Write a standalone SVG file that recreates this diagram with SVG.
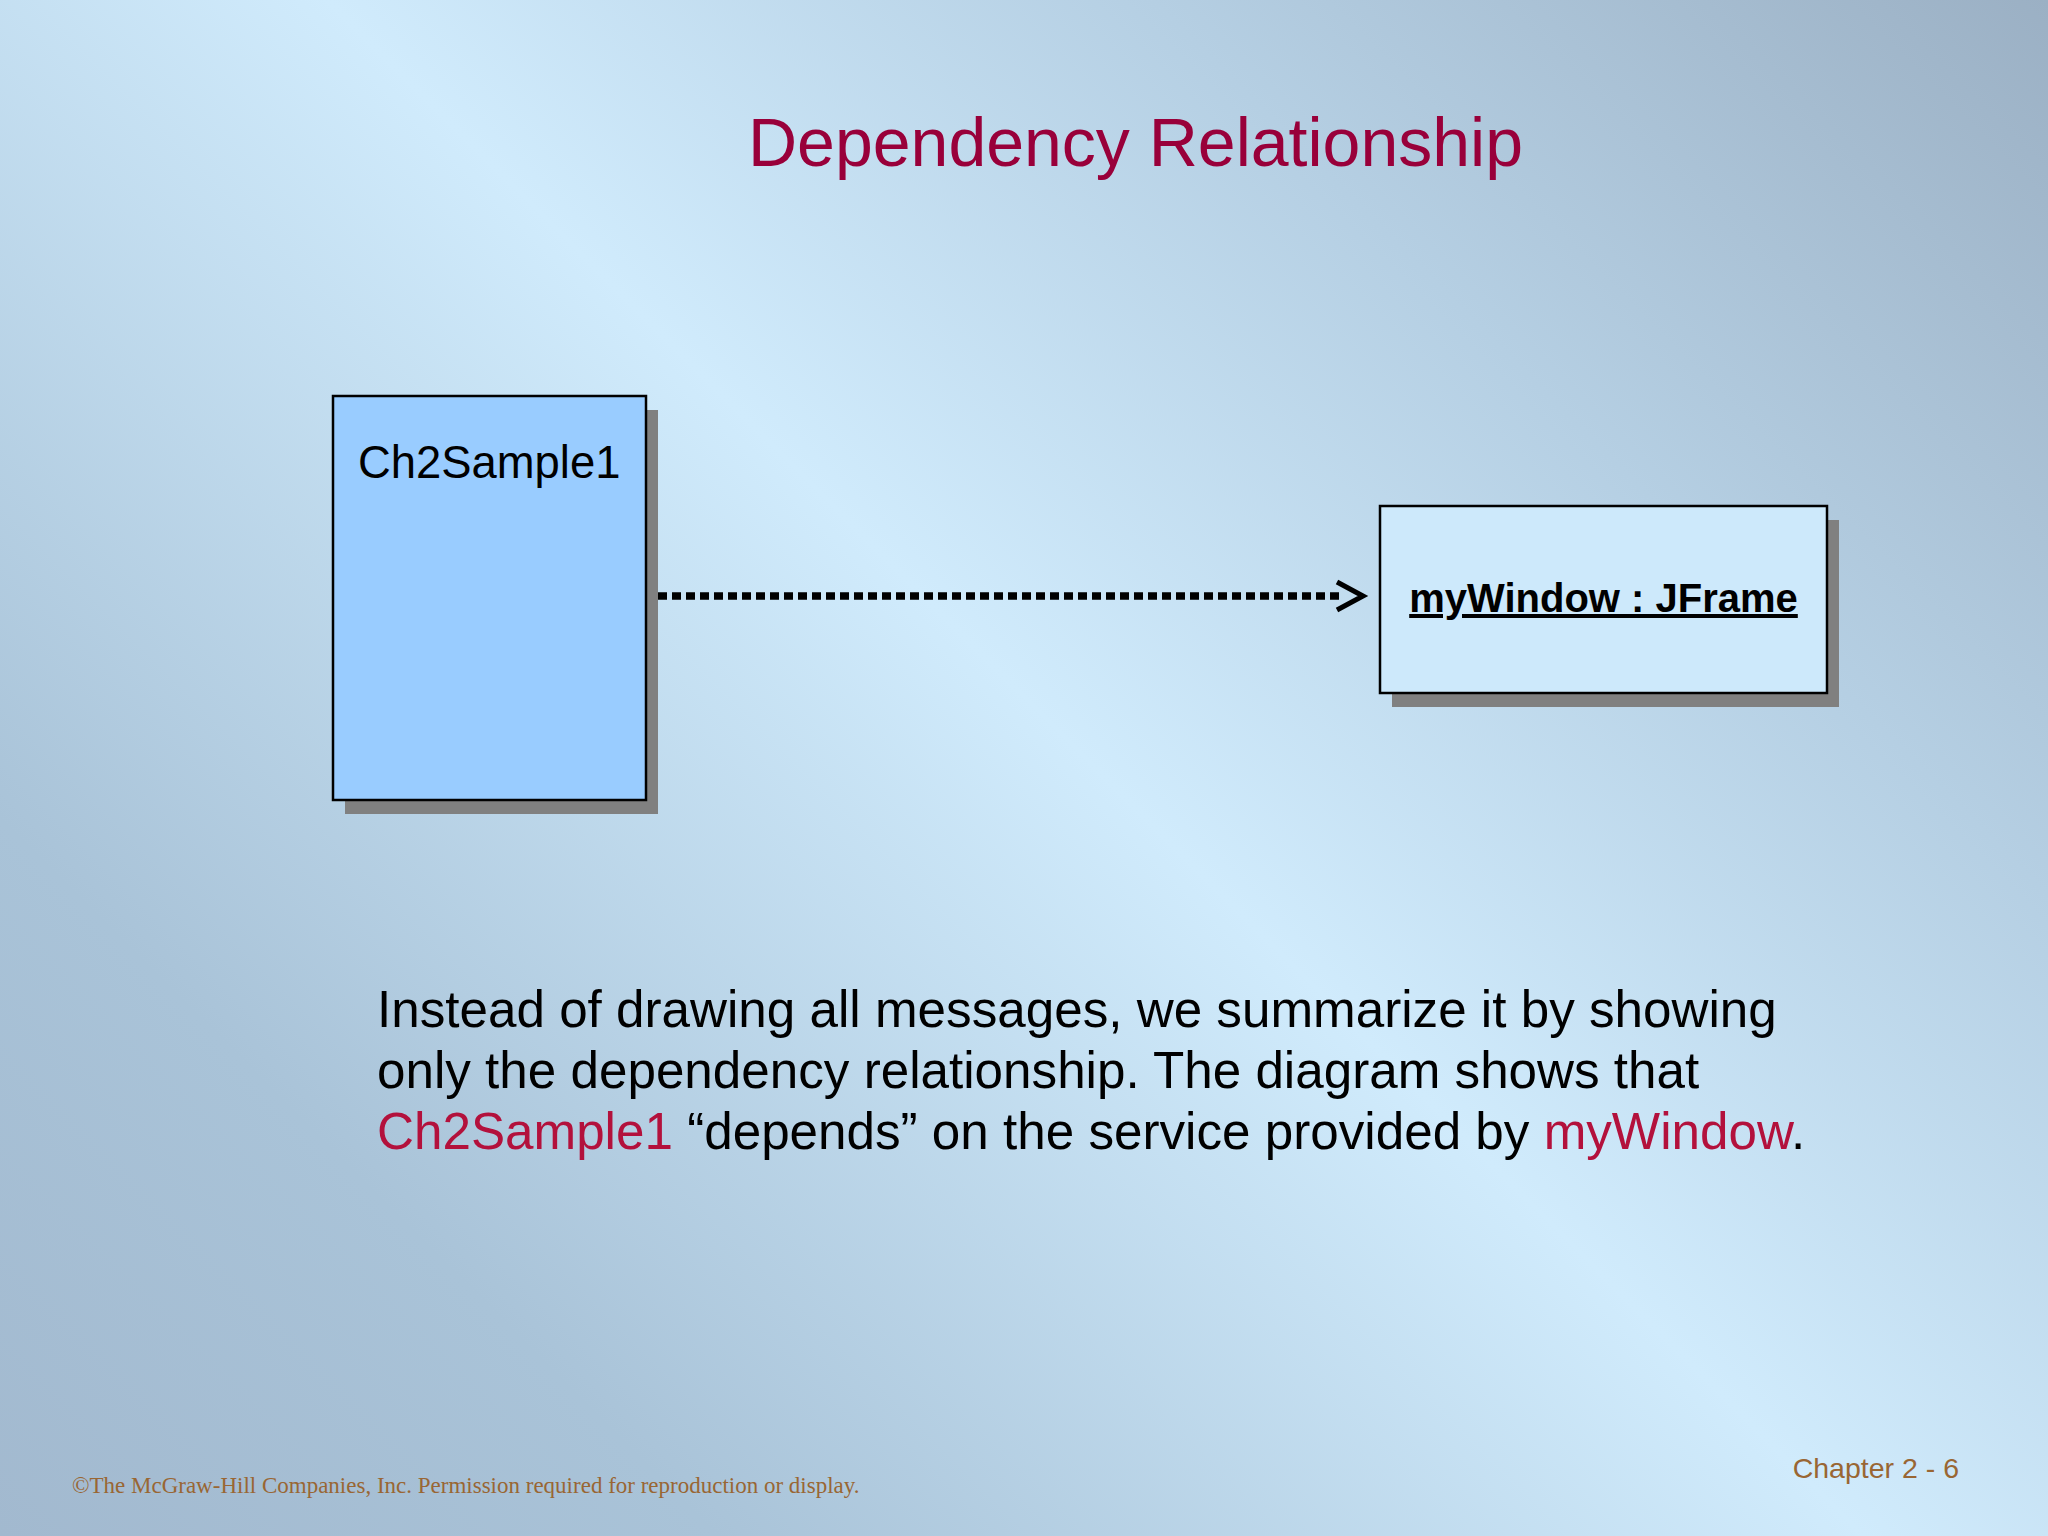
<svg xmlns="http://www.w3.org/2000/svg" width="2048" height="1536" viewBox="0 0 2048 1536">
  <defs>
    <linearGradient id="bg" gradientUnits="userSpaceOnUse" x1="-768" y1="768" x2="1024" y2="-1024">
      <stop offset="0" stop-color="#a2b9cf"/>
      <stop offset="0.2" stop-color="#a9c3d8"/>
      <stop offset="0.52" stop-color="#d0ebfc"/>
      <stop offset="0.75" stop-color="#b5cfe3"/>
      <stop offset="1" stop-color="#9bb0c4"/>
    </linearGradient>
    <marker id="open" markerUnits="userSpaceOnUse" markerWidth="40" markerHeight="40" viewBox="-10 -20 40 40" refX="5" refY="0" orient="auto" overflow="visible">
      <path d="M0,-14 L26,0 L0,14" fill="none" stroke="#000" stroke-width="5"/>
    </marker>
  </defs>
  <style>
    .shadow { fill: #808080; }
    .box { stroke: #000; stroke-width: 2.5; }
    .sans { font-family: "Liberation Sans", Arial, sans-serif; }
    .red { fill: #b3113c; }
    .dep { fill: none; stroke: #000; stroke-width: 7.5; stroke-dasharray: 9 5; }
  </style>
  <rect width="2048" height="1536" fill="url(#bg)"/>

  <text id="title" class="sans" x="1135.5" y="166" font-size="68" text-anchor="middle" fill="#99003a">Dependency Relationship</text>

  <g id="connectors">
    <line class="dep" x1="658" y1="596" x2="1342" y2="596" marker-end="url(#open)"/>
  </g>

  <g id="node-ch2sample1">
    <rect class="shadow" x="345" y="410" width="313" height="404"/>
    <rect class="box" x="333" y="396" width="313" height="404" fill="#99ccff"/>
    <text class="sans" x="358" y="478" font-size="45.4" fill="#000">Ch2Sample1</text>
  </g>

  <g id="node-mywindow">
    <rect class="shadow" x="1392" y="520" width="447" height="187"/>
    <rect class="box" x="1380" y="506" width="447" height="187" fill="#cde9fb"/>
    <text class="sans" x="1603.5" y="612" font-size="40" font-weight="bold" text-anchor="middle" text-decoration="underline" fill="#000">myWindow : JFrame</text>
  </g>

  <g id="description" class="sans" font-size="51.2" fill="#000">
    <text x="377" y="1027">Instead of drawing all messages, we summarize it by showing</text>
    <text x="377" y="1088">only the dependency relationship. The diagram shows that</text>
    <text x="377" y="1149"><tspan class="red">Ch2Sample1</tspan> “depends” on the service provided by <tspan class="red">myWindow</tspan>.</text>
  </g>

  <text id="footer" x="72" y="1493" font-family="'Liberation Serif', 'Times New Roman', serif" font-size="23" fill="#996633">©The McGraw-Hill Companies, Inc. Permission required for reproduction or display.</text>
  <text id="page" class="sans" x="1959" y="1478" font-size="28.5" text-anchor="end" fill="#996633">Chapter 2 - 6</text>
</svg>
